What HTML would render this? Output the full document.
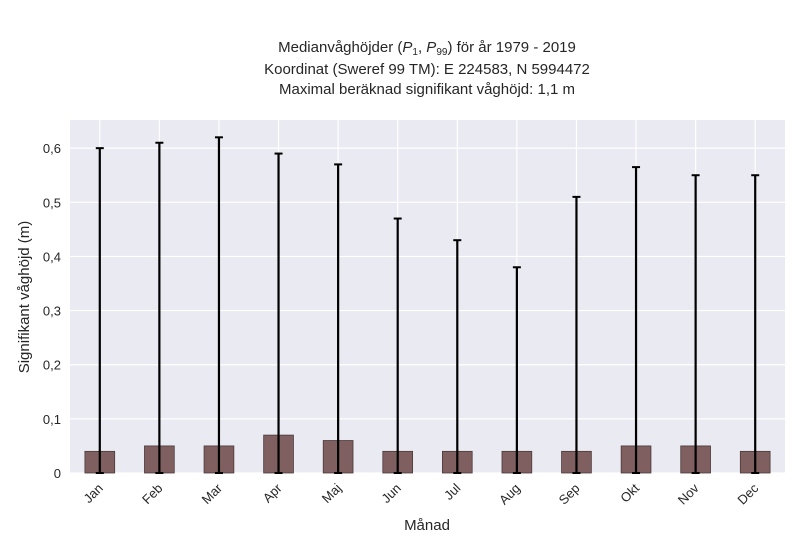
<!DOCTYPE html>
<html><head><meta charset="utf-8"><style>
body{margin:0;background:#fff;font-family:"Liberation Sans",sans-serif;}
</style></head><body>
<svg id="chart" width="800" height="550" xmlns="http://www.w3.org/2000/svg" font-family="Liberation Sans, sans-serif">
<rect width="800" height="550" fill="#fff"/>
<g font-size="15" fill="#262626" text-anchor="middle">
<text x="427" y="52">Medianvåghöjder (<tspan font-style="italic">P</tspan><tspan font-size="10" dy="3">1</tspan><tspan dy="-3">, </tspan><tspan font-style="italic">P</tspan><tspan font-size="10" dy="3">99</tspan><tspan dy="-3">) för år 1979 - 2019</tspan></text>
<text x="427" y="74">Koordinat (Sweref 99 TM): E 224583, N 5994472</text>
<text x="427" y="94">Maximal beräknad signifikant våghöjd: 1,1 m</text>
</g>
<rect x="70" y="120" width="715" height="353" fill="#eaeaf2"/>
<g id="grid"></g>
<g id="bars"></g>
<g id="errs"></g>
<g id="xt" font-size="13" fill="#262626"></g>
<g id="yt" font-size="13" fill="#262626" text-anchor="end"></g>
<text x="427" y="530" font-size="15" fill="#262626" text-anchor="middle">Månad</text>
<text transform="translate(29,297) rotate(-90)" font-size="15" fill="#262626" text-anchor="middle">Signifikant våghöjd (m)</text>
</svg>
<script>
const months=["Jan","Feb","Mar","Apr","Maj","Jun","Jul","Aug","Sep","Okt","Nov","Dec"];
const medians=[0.04,0.05,0.05,0.07,0.06,0.04,0.04,0.04,0.04,0.05,0.05,0.04];
const lowers=[0,0,0,0,0,0,0,0,0,0,0,0];
const uppers=[0.60,0.61,0.62,0.59,0.57,0.47,0.43,0.38,0.51,0.565,0.55,0.55];
const yTicks=[0,0.1,0.2,0.3,0.4,0.5,0.6];
const yTickLabels=["0","0,1","0,2","0,3","0,4","0,5","0,6"];
const NS="http://www.w3.org/2000/svg";
const X0=70,W=715,Y0=473,YT=120,YMAX=0.652;
const band=W/months.length;
const xc=i=>X0+band*(i+0.5);
const y=v=>Y0-(v/YMAX)*(Y0-YT);
function mk(tag,attrs,parent){const e=document.createElementNS(NS,tag);for(const k in attrs)e.setAttribute(k,attrs[k]);document.getElementById(parent).appendChild(e);return e;}
yTicks.forEach((t,i)=>{
 const l=mk("line",{x1:X0,x2:X0+W,y1:y(t),y2:y(t),stroke:"#fff","stroke-width":1.2},"grid");
 
 
 const tx=mk("text",{x:X0-9,y:y(t)+5},"yt");tx.textContent=yTickLabels[i];
 
 
});
months.forEach((m,i)=>{
 const g=mk("line",{x1:xc(i),x2:xc(i),y1:YT,y2:Y0,stroke:"#fff","stroke-width":1.2},"grid");
 
 
 const bw=band*0.5;
 const b=mk("rect",{x:xc(i)-bw/2,y:y(medians[i]),width:bw,height:Y0-y(medians[i]),fill:"#7f5f5f",stroke:"#4a3a3a","stroke-width":0.8},"bars");
 
 
 const e=mk("line",{x1:xc(i),x2:xc(i),y1:y(uppers[i]),y2:y(lowers[i]),stroke:"#000","stroke-width":2.2},"errs");
 
 
 [uppers[i],lowers[i]].forEach(v=>{
  const c=mk("line",{x1:xc(i)-4,x2:xc(i)+4,y1:y(v),y2:y(v),stroke:"#000","stroke-width":2},"errs");
  
  
 });
 const t=mk("text",{x:xc(i)+4,y:Y0+16,"text-anchor":"end",transform:`rotate(-45 ${xc(i)+4} ${Y0+16})`},"xt");
 t.textContent=m;
 
 
});
</script>
</body></html>
